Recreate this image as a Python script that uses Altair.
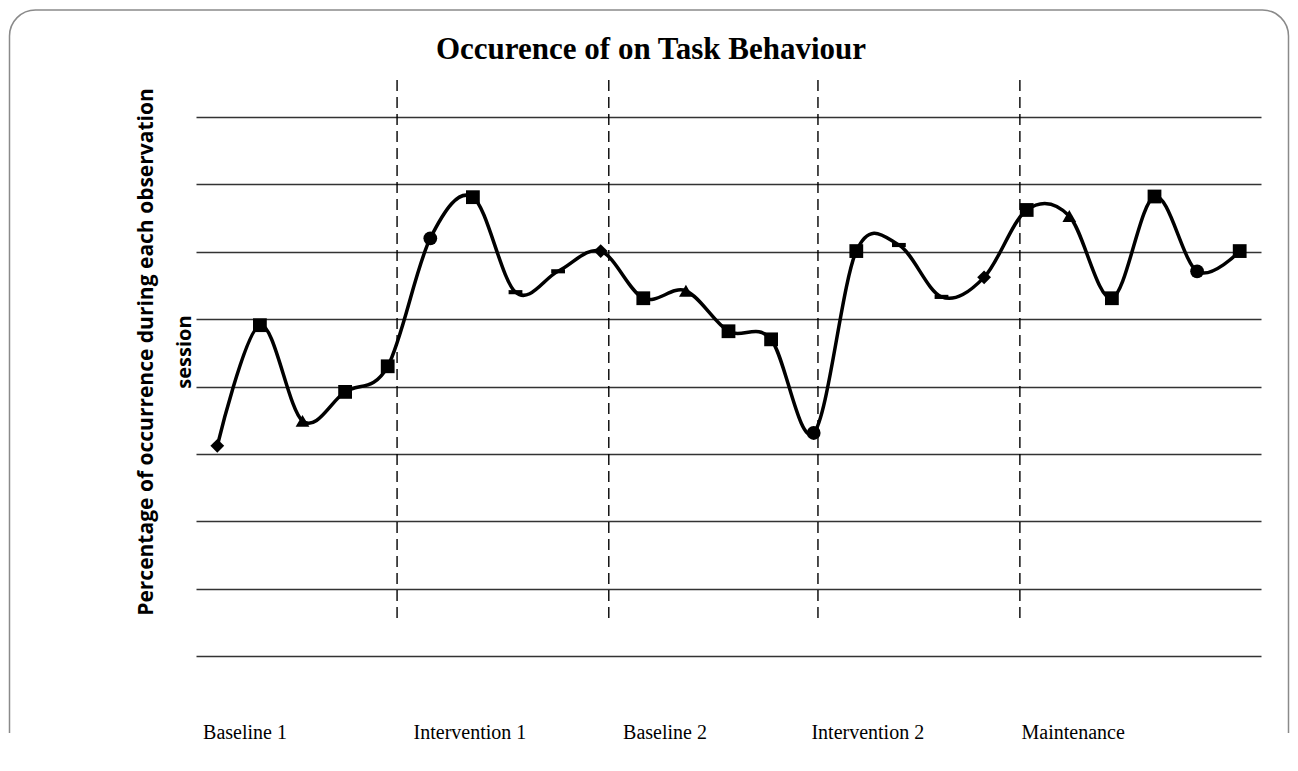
import altair as alt
import pandas as pd

# ---- data ----
sessions = list(range(1, 26))
values = [31.2, 49.1, 34.9, 39.2, 43.0,
          62.0, 68.1, 54.0, 57.1, 60.1,
          53.1, 54.2, 48.2, 47.0, 33.1,
          60.1, 61.0, 53.3, 56.2, 66.2,
          65.3, 53.1, 68.2, 57.1, 60.1]
markers = ["diamond", "square", "triangle-up", "square", "square",
           "circle", "square", "dash", "dash", "diamond",
           "square", "triangle-up", "square", "square", "circle",
           "square", "dash", "dash", "diamond", "square",
           "triangle-up", "square", "square", "circle", "square"]
phase_names = ["Baseline 1", "Intervention 1", "Baseline 2", "Intervention 2", "Maintenance"]
phase_label_pos = [1.65, 6.93, 11.51, 16.27, 21.09]
phase_breaks = [5.22, 10.19, 15.1, 19.84]
grid_values = [0, 10, 20, 30, 40, 50, 60, 70, 80]

DASH = "M-1,-0.3L1,-0.3L1,0.3L-1,0.3Z"
shape_map = {"dash": DASH}

df = pd.DataFrame({
    "session": sessions,
    "value": values,
    "shape": [shape_map.get(m, m) for m in markers],
})
phases = pd.DataFrame({"name": phase_names, "pos": phase_label_pos})
breaks = pd.DataFrame({"pos": phase_breaks})
one = pd.DataFrame({"a": [0]})

xscale = alt.Scale(domain=[0.5, 25.5], nice=False, zero=False)
yscale = alt.Scale(domain=[0, 80], nice=False, zero=False)

W, H = 1065, 539
LEFT, TOP = 188, 109

border = alt.Chart(one).mark_rect(
    cornerRadius=26, fillOpacity=0, stroke="#8a8a8a", strokeWidth=1.5
).encode(
    x=alt.value(9.5 - 196), x2=alt.value(1288.5 - 196),
    y=alt.value(10 - 117), y2=alt.value(800 - 117),
)
cover = alt.Chart(one).mark_rect(color="white").encode(
    x=alt.value(-200), x2=alt.value(1110),
    y=alt.value(733 - 117), y2=alt.value(800 - 117),
)

grid = alt.Chart(df).mark_point(opacity=0).encode(
    x=alt.X("session:Q", scale=xscale, axis=None),
    y=alt.Y("value:Q", scale=yscale,
            axis=alt.Axis(values=grid_values, labels=False, ticks=False,
                          domain=False, grid=True, gridColor="#333333",
                          gridWidth=1.4, title=None)),
)

dashed = alt.Chart(breaks).mark_rule(
    color="black", strokeWidth=1.4, strokeDash=[11, 6]
).encode(
    x=alt.X("pos:Q", scale=xscale),
    y=alt.value(80 - 117), y2=alt.value(622 - 117),
)

line = alt.Chart(df).mark_line(
    interpolate="cardinal", color="black", strokeWidth=3.5
).encode(
    x=alt.X("session:Q", scale=xscale),
    y=alt.Y("value:Q", scale=yscale),
)

points = alt.Chart(df).mark_point(
    filled=True, color="black", opacity=1, size=190
).encode(
    x=alt.X("session:Q", scale=xscale),
    y=alt.Y("value:Q", scale=yscale),
    shape=alt.Shape("shape:N", scale=None),
)

phase_text = alt.Chart(phases).mark_text(
    font="Liberation Serif", fontSize=20, color="black",
    align="center", baseline="alphabetic"
).encode(
    x=alt.X("pos:Q", scale=xscale),
    y=alt.value(739 - 117),
    text="name:N",
)

title = alt.Chart(one).mark_text(
    text="Occurence of on Task Behaviour", font="Liberation Serif",
    fontSize=31, fontWeight="bold", color="black",
    align="center", baseline="alphabetic"
).encode(x=alt.value(651 - 196), y=alt.value(59 - 117))

ytitle1 = alt.Chart(one).mark_text(
    text="Percentage of occurrence during each observation", font="Open Sans",
    fontSize=21, fontWeight="bold", color="black", angle=270,
    align="center", baseline="middle"
).encode(x=alt.value(147 - 196), y=alt.value(352 - 117))

ytitle2 = alt.Chart(one).mark_text(
    text="session", font="Open Sans",
    fontSize=20, fontWeight="bold", color="black", angle=270,
    align="center", baseline="middle"
).encode(x=alt.value(185 - 196), y=alt.value(352 - 117))

chart = alt.layer(
    border, cover, grid, dashed, line, points, phase_text, title, ytitle1, ytitle2
).properties(
    width=W, height=H,
    padding={"left": LEFT, "top": TOP, "right": 29, "bottom": 98},
    autosize=alt.AutoSizeParams(type="none"),
    background="white",
).configure_view(strokeWidth=0, stroke="transparent")

chart.save("out.html", embed_options={"renderer": "svg", "actions": False})
